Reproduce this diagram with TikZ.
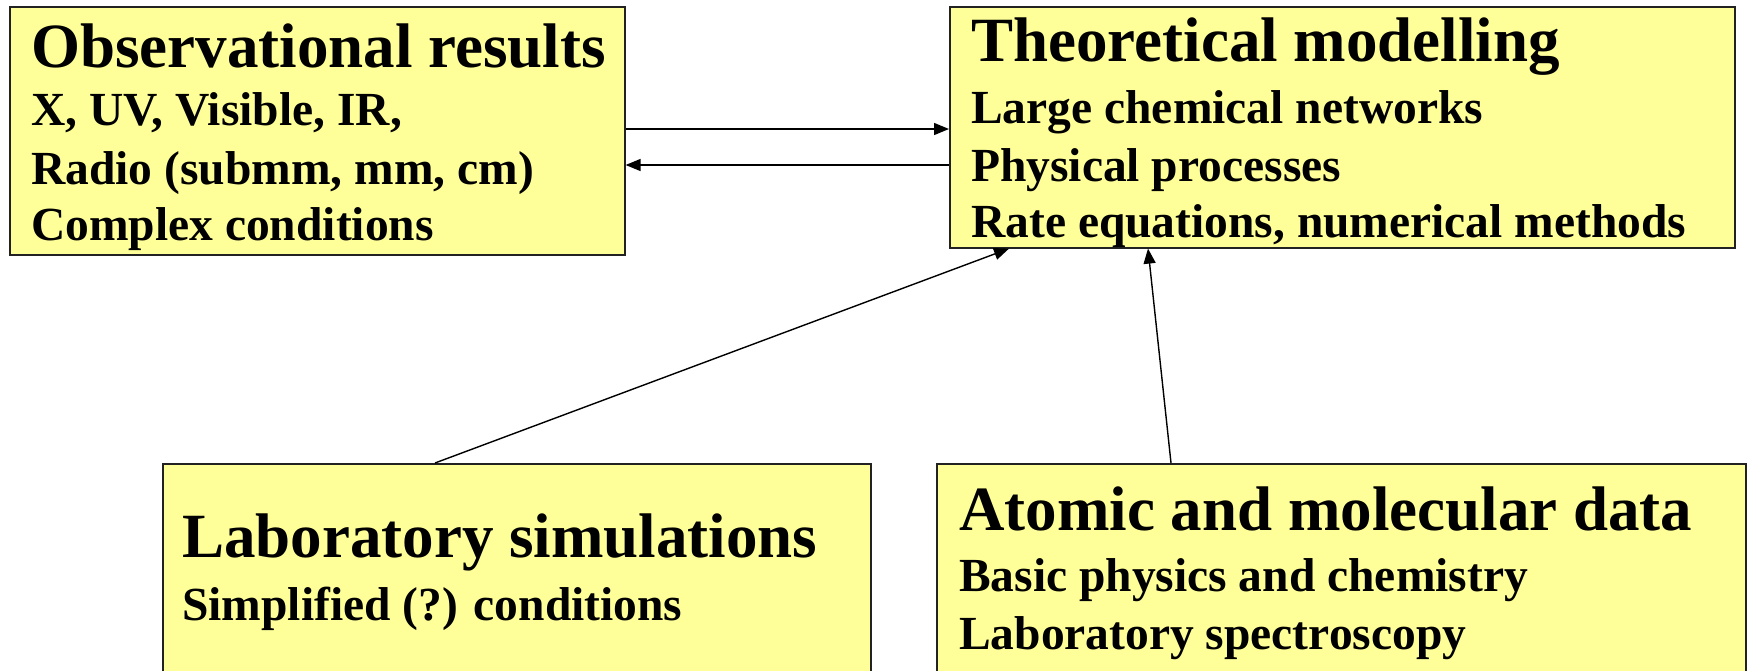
\documentclass[tikz,border=0pt]{standalone}
\usepackage{fontspec}
\setmainfont{Liberation Serif}
\usetikzlibrary{arrows.meta}
\definecolor{boxfill}{HTML}{FFFF99}
\definecolor{boxline}{HTML}{222222}
\tikzset{
  box/.style={draw=boxline, line width=1.6pt, fill=boxfill, rectangle, inner sep=0pt, anchor=north west},
  ttl/.style={anchor=base west, inner sep=0pt, font=\fontsize{63}{63}\selectfont\bfseries},
  txt/.style={anchor=base west, inner sep=0pt, font=\fontsize{47.5}{47.5}\selectfont\bfseries},
  arr/.style={line width=1.4pt, -{Triangle[length=15pt,width=12pt]}}
}
\begin{document}
\begin{tikzpicture}[x=1pt,y=-1pt]
\useasboundingbox (0,0) rectangle (1748,670);
\clip (0,0) rectangle (1748,670);
% boxes
\node[box, minimum width=615pt, minimum height=248pt] (obs) at (9,6) {};
\node[box, minimum width=785pt, minimum height=241pt] (theor) at (949,6) {};
\node[box, minimum width=708pt, minimum height=260pt] (lab) at (162,463) {};
\node[box, minimum width=809pt, minimum height=260pt] (atom) at (936,463) {};
% texts
\node[ttl] (t1) at (31,67) {Observational results};
\node[txt] (t1a) at (31,125) {X, UV, Visible, IR,};
\node[txt] (t1b) at (31,184) {Radio (submm, mm, cm)};
\node[txt] (t1c) at (31,240) {Complex conditions};
\node[ttl] (t2) at (971,61) {Theoretical modelling};
\node[txt] (t2a) at (971,123) {Large chemical networks};
\node[txt] (t2b) at (971,181) {Physical processes};
\node[txt] (t2c) at (971,237) {Rate equations, numerical methods};
\node[ttl] (t3) at (182,557) {Laboratory simulations};
\node[txt] (t3a) at (182,620) {Simplified (?) conditions};
\node[ttl] (t4) at (959,530) {Atomic and molecular data};
\node[txt] (t4a) at (959,591) {Basic physics and chemistry};
\node[txt] (t4b) at (959,649) {Laboratory spectroscopy};
% helper coordinates
\coordinate (h1) at (0,129);
\coordinate (h2) at (0,165);
\coordinate (v1) at (435,0);
\coordinate (v2) at (1009,0);
\coordinate (v3) at (1171,0);
\coordinate (v4) at (1148,0);
% connectors
\draw[arr] (obs.east |- h1) -- (theor.west |- h1);
\draw[arr] (theor.west |- h2) -- (obs.east |- h2);
\draw[arr] (lab.north -| v1) -- (theor.south -| v2);
\draw[arr] (atom.north -| v3) -- (theor.south -| v4);
\end{tikzpicture}
\end{document}
